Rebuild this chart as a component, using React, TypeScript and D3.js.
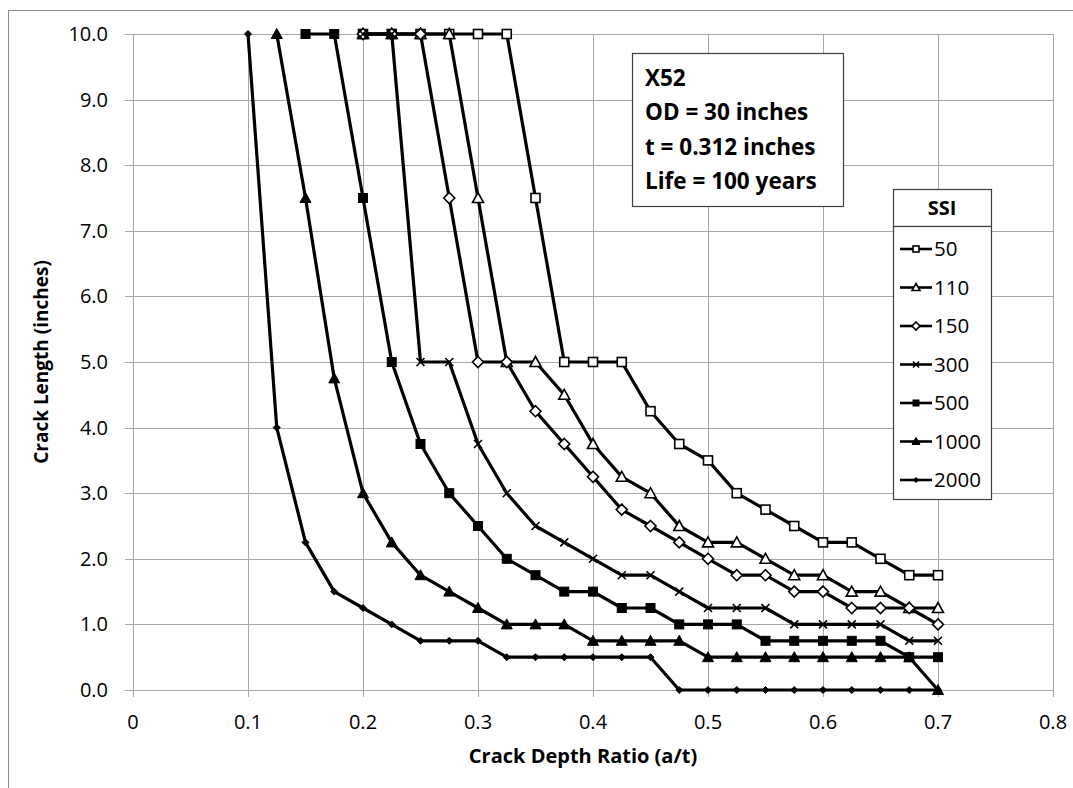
import React from "react";
import * as d3 from "d3";

const depthRatio = [0.1, 0.125, 0.15, 0.175, 0.2, 0.225, 0.25, 0.275, 0.3, 0.325, 0.35, 0.375, 0.4, 0.425, 0.45, 0.475, 0.5, 0.525, 0.55, 0.575, 0.6, 0.625, 0.65, 0.675, 0.7];

const ssi50 = [null, null, null, null, 10, 10, 10, 10, 10, 10, 7.5, 5, 5, 5, 4.25, 3.75, 3.5, 3, 2.75, 2.5, 2.25, 2.25, 2, 1.75, 1.75];
const ssi110 = [null, null, null, null, 10, 10, 10, 10, 7.5, 5, 5, 4.5, 3.75, 3.25, 3, 2.5, 2.25, 2.25, 2, 1.75, 1.75, 1.5, 1.5, 1.25, 1.25];
const ssi150 = [null, null, null, null, 10, 10, 10, 7.5, 5, 5, 4.25, 3.75, 3.25, 2.75, 2.5, 2.25, 2, 1.75, 1.75, 1.5, 1.5, 1.25, 1.25, 1.25, 1];
const ssi300 = [null, null, null, null, 10, 10, 5, 5, 3.75, 3, 2.5, 2.25, 2, 1.75, 1.75, 1.5, 1.25, 1.25, 1.25, 1, 1, 1, 1, 0.75, 0.75];
const ssi500 = [null, null, 10, 10, 7.5, 5, 3.75, 3, 2.5, 2, 1.75, 1.5, 1.5, 1.25, 1.25, 1, 1, 1, 0.75, 0.75, 0.75, 0.75, 0.75, 0.5, 0.5];
const ssi1000 = [null, 10, 7.5, 4.75, 3, 2.25, 1.75, 1.5, 1.25, 1, 1, 1, 0.75, 0.75, 0.75, 0.75, 0.5, 0.5, 0.5, 0.5, 0.5, 0.5, 0.5, 0.5, 0];
const ssi2000 = [10, 4, 2.25, 1.5, 1.25, 1, 0.75, 0.75, 0.75, 0.5, 0.5, 0.5, 0.5, 0.5, 0.5, 0, 0, 0, 0, 0, 0, 0, 0, 0, 0];

const seriesNames = ["50", "110", "150", "300", "500", "1000", "2000"];
const seriesValues = [ssi50, ssi110, ssi150, ssi300, ssi500, ssi1000, ssi2000];
const seriesMarkers = ["squareOpen", "triangleOpen", "diamondOpen", "cross", "squareFilled", "triangleFilled", "diamondFilled"];

const xTickValues = [0, 0.1, 0.2, 0.3, 0.4, 0.5, 0.6, 0.7, 0.8];
const xTickLabels = ["0", "0.1", "0.2", "0.3", "0.4", "0.5", "0.6", "0.7", "0.8"];
const yTickValues = [0, 1, 2, 3, 4, 5, 6, 7, 8, 9, 10];
const yTickLabels = ["0.0", "1.0", "2.0", "3.0", "4.0", "5.0", "6.0", "7.0", "8.0", "9.0", "10.0"];

const annotationLines = ["X52", "OD = 30 inches", "t = 0.312 inches", "Life = 100 years"];
const xTitle = "Crack Depth Ratio (a/t)";
const yTitle = "Crack Length (inches)";
const legendTitle = "SSI";

const FONT = "'Open Sans', 'Noto Sans', sans-serif";
const GRID = "#a6a6a6";

function Marker({ kind, x, y, s }: { kind: string; x: number; y: number; s: number }) {
  const h = s / 2;
  switch (kind) {
    case "squareOpen":
      return <rect x={x - h} y={y - h} width={s} height={s} fill="#fff" stroke="#000" strokeWidth={1.6} />;
    case "squareFilled":
      return <rect x={x - h} y={y - h} width={s} height={s} fill="#000" stroke="#000" strokeWidth={1} />;
    case "triangleOpen":
      return <path d={`M${x},${y - h - 1}L${x + h + 1},${y + h}L${x - h - 1},${y + h}Z`} fill="#fff" stroke="#000" strokeWidth={1.6} />;
    case "triangleFilled":
      return <path d={`M${x},${y - h - 1}L${x + h + 1},${y + h}L${x - h - 1},${y + h}Z`} fill="#000" stroke="#000" strokeWidth={1} />;
    case "diamondOpen":
      return <path d={`M${x},${y - h - 1}L${x + h + 1},${y}L${x},${y + h + 1}L${x - h - 1},${y}Z`} fill="#fff" stroke="#000" strokeWidth={1.6} />;
    case "diamondFilled":
      return <path d={`M${x},${y - h + 0.5}L${x + h - 0.5},${y}L${x},${y + h - 0.5}L${x - h + 0.5},${y}Z`} fill="#000" stroke="#000" strokeWidth={1} />;
    case "cross":
      return <path d={`M${x - h},${y - h}L${x + h},${y + h}M${x + h},${y - h}L${x - h},${y + h}`} fill="none" stroke="#000" strokeWidth={1.6} />;
    default:
      return null;
  }
}

export default function App() {
  const x = d3.scaleLinear().domain([0, 0.8]).range([133, 1053]);
  const y = d3.scaleLinear().domain([0, 10]).range([690, 34]);

  const line = d3
    .line<number | null>()
    .defined((d) => d !== null)
    .x((_, i) => x(depthRatio[i]))
    .y((d) => y(d as number));

  const legendX = 893;
  const legendW = 98;
  const headerTop = 189;
  const headerH = 37;
  const itemTop = 249;
  const itemStep = 38.5;

  return (
    <svg
      width={1073}
      height={788}
      style={{ position: "absolute", left: 0, top: 0, background: "#fff" }}
      fontFamily={FONT}
    >
      <rect x={0} y={0} width={1073} height={788} fill="#fff" />
      <rect x={8.5} y={10.5} width={1100} height={820} fill="#fff" stroke="#8c8c8c" strokeWidth={1} />

      {/* gridlines */}
      {xTickValues.map((v) => (
        <line key={"gx" + v} x1={Math.round(x(v)) + 0.5} x2={Math.round(x(v)) + 0.5} y1={y(10)} y2={y(0) + 7} stroke={GRID} strokeWidth={1} />
      ))}
      {yTickValues.map((v) => (
        <line key={"gy" + v} x1={x(0) - 8} x2={x(0.8)} y1={Math.round(y(v)) + 0.5} y2={Math.round(y(v)) + 0.5} stroke={GRID} strokeWidth={1} />
      ))}

      {/* tick labels */}
      {xTickValues.map((v, i) => (
        <text key={"tx" + v} x={x(v)} y={729} textAnchor="middle" fontSize={20} fill="#000">
          {xTickLabels[i]}
        </text>
      ))}
      {yTickValues.map((v, i) => (
        <text key={"ty" + v} x={108} y={y(v) + 7} textAnchor="end" fontSize={20} fill="#000">
          {yTickLabels[i]}
        </text>
      ))}

      {/* axis titles */}
      <text x={583} y={763} textAnchor="middle" fontSize={20} fontWeight="bold" fill="#000">
        {xTitle}
      </text>
      <text transform={`translate(48,362) rotate(-90)`} textAnchor="middle" fontSize={19} fontWeight="bold" fill="#000">
        {yTitle}
      </text>

      {/* series */}
      {seriesValues.map((vals, si) => (
        <g key={"s" + si}>
          <path d={line(vals) || ""} fill="none" stroke="#000" strokeWidth={3.2} strokeLinejoin="round" />
          {vals.map((v, i) =>
            v === null ? null : (
              <Marker key={i} kind={seriesMarkers[si]} x={x(depthRatio[i])} y={y(v)} s={si === 6 ? 8 : si === 3 ? 8 : 9} />
            )
          )}
        </g>
      ))}

      {/* annotation box */}
      <rect x={632.5} y={53.5} width={211} height={153} fill="#fff" stroke="#404040" strokeWidth={1.2} />
      {annotationLines.map((t, i) => (
        <text key={t} x={645} y={86 + i * 34.3} fontSize={22.5} fontWeight="bold" fill="#000">
          {t}
        </text>
      ))}

      {/* legend */}
      <rect x={legendX + 0.5} y={headerTop + 0.5} width={legendW} height={headerH} fill="#fff" stroke="#404040" strokeWidth={1.2} />
      <text x={legendX + legendW / 2} y={headerTop + 26} textAnchor="middle" fontSize={20} fontWeight="bold" fill="#000">
        {legendTitle}
      </text>
      <rect x={legendX + 0.5} y={headerTop + headerH + 0.5} width={legendW} height={273} fill="#fff" stroke="#404040" strokeWidth={1.2} />
      {seriesNames.map((n, i) => {
        const cy = itemTop + i * itemStep;
        return (
          <g key={"lg" + n}>
            <line x1={900} x2={932} y1={cy} y2={cy} stroke="#000" strokeWidth={2.6} />
            <Marker kind={seriesMarkers[i]} x={916} y={cy} s={6} />
            <text x={934} y={cy + 7} fontSize={20.5} fill="#000">
              {n}
            </text>
          </g>
        );
      })}
    </svg>
  );
}
